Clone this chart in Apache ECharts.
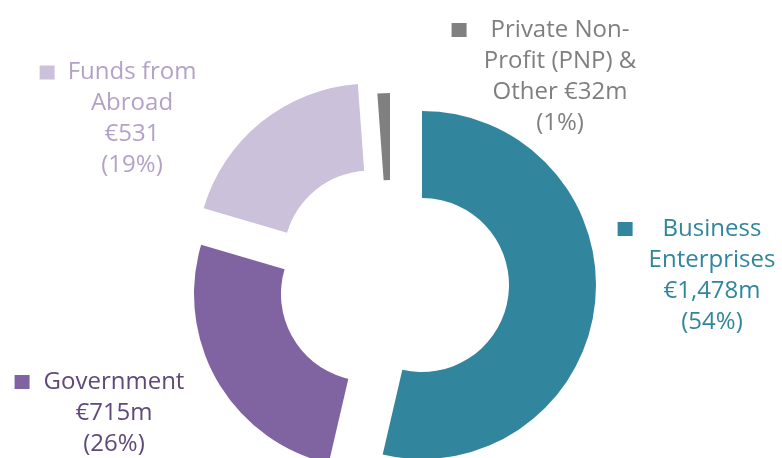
<!DOCTYPE html>
<html>
<head>
<meta charset="utf-8">
<script src="https://cdn.jsdelivr.net/npm/echarts@6/dist/echarts.min.js"></script>
<style>
  html, body { margin: 0; padding: 0; background: #fff; }
  #chart { width: 782px; height: 458px; }
</style>
</head>
<body>
<div id="chart"></div>
<script>
// funding sources (€m)
const categories = ['Business Enterprises', 'Government', 'Funds from Abroad', 'Private Non-Profit (PNP) & Other'];
const values = [1478, 715, 531, 32];
const labelLines = [
  ['Business', 'Enterprises', '€1,478m'],
  ['Government', '€715m'],
  ['Funds from', 'Abroad', '€531'],
  ['Private Non-', 'Profit (PNP) &', 'Other €32m']
];

const sliceColors = ['#31859c', '#8064a2', '#ccc1da', '#808080'];
const textColors = ['#31859c', '#5f497a', '#b3a2c7', '#7f7f7f'];
// each slice is pulled out on its own, so each gets its own centre
const centers = [[422, 285], [368, 294], [370.5, 257.5], [390, 267]];
const labelPos = [[712, 213.5], [114, 366.5], [132, 57], [560, 14.5]];
const gaps = [30, 14, 13, 24];

const total = values.reduce((a, b) => a + b, 0);

var myChart = echarts.init(document.getElementById('chart'), null, { renderer: 'canvas' });

const series = values.map(function (_, k) {
  const lines = labelLines[k];
  const pct = Math.round(values[k] / total * 100);
  let text = '{sq|}{g|}{t|' + lines[0] + '}{pad|}';
  for (let i = 1; i < lines.length; i++) text += '\n{t|' + lines[i] + '}';
  text += '\n{t|(' + pct + '%)}';
  return {
    type: 'pie',
    center: centers[k],
    radius: [87, 174],
    startAngle: 90,
    clockwise: true,
    silent: true,
    animation: false,
    avoidLabelOverlap: false,
    labelLine: { show: false },
    label: {
      formatter: function () { return text; },
      rich: {
        sq: { width: 15, height: 14, backgroundColor: sliceColors[k] },
        g: { width: gaps[k] },
        pad: { width: 15 + gaps[k] },
        t: {
          fontFamily: 'Open Sans',
          fontSize: 24,
          lineHeight: 31,
          color: textColors[k],
          align: 'center'
        }
      }
    },
    labelLayout: {
      x: labelPos[k][0],
      y: labelPos[k][1],
      align: 'center',
      verticalAlign: 'top'
    },
    data: values.map(function (v, i) {
      return {
        name: categories[i],
        value: v,
        itemStyle: { color: i === k ? sliceColors[i] : 'transparent' },
        label: { show: i === k }
      };
    })
  };
});

var option = {
  backgroundColor: '#fff',
  series: series
};

option && myChart.setOption(option);
</script>
</body>
</html>
